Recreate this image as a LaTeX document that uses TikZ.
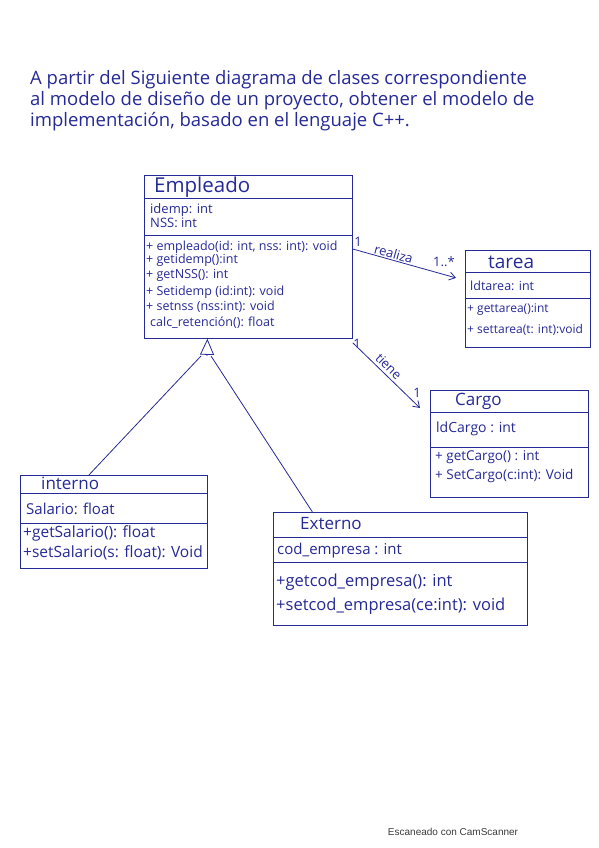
\documentclass[tikz,border=0pt]{standalone}
\usepackage{fontspec}
\usetikzlibrary{arrows.meta}
\newfontfamily\mano{Open Sans}
\newfontfamily\pie{Liberation Sans}
\definecolor{ink}{RGB}{38,42,150}
\definecolor{gris}{RGB}{60,60,60}

\tikzset{
	clase/.style={draw=ink,thick,inner sep=0pt,anchor=north west},
	txt/.style={ink,anchor=west,inner sep=0pt,font=\mano\fontsize{#1}{#1}\selectfont},
	txt/.default=12,
	titulo/.style={ink,anchor=west,inner sep=0pt,font=\mano\fontsize{#1}{#1}\selectfont},
	titulo/.default=18,
	enunciado/.style={ink,anchor=west,inner sep=0pt,font=\mano\fontsize{18.5}{22}\selectfont},
	linea/.style={ink,thick},
	asoc/.style={ink,thick,-{Straight Barb[length=6pt,width=8pt]}},
	herencia/.style={ink,thick,-{Triangle[open,length=16pt,width=14pt]}},
	rol/.style={ink,inner sep=1pt,font=\mano\fontsize{13}{13}\selectfont}
}

\begin{document}
\begin{tikzpicture}[x=1pt,y=-1pt]
	
	\useasboundingbox[fill=white] (0,0) rectangle (599,848);
	
	% enunciado
	\node[enunciado] (l1) at (30,80) {A partir del Siguiente diagrama de clases correspondiente};
	\node[enunciado] (l2) at (30,101) {al modelo de diseño de un proyecto, obtener el modelo de};
	\node[enunciado] (l3) at (30,122) {implementación, basado en el lenguaje C++.};
	
	% Empleado
	\node[clase,minimum width=208pt,minimum height=163pt] (emp) at (144,175) {};
	\draw[linea] (144,198) -- (352,198);
	\draw[linea] (144,235) -- (352,235);
	\node[titulo=20.5] (empT) at (154,187) {Empleado};
	\node[txt=13] (empA1) at (150,210) {idemp: int};
	\node[txt=13] (empA2) at (150,223) {NSS: int};
	\node[txt=12.5] (empM1) at (146,247) {+ empleado(id: int, nss: int): void};
	\node[txt=12.5] (empM2) at (146,260) {+ getidemp():int};
	\node[txt=12.5] (empM3) at (146,275) {+ getNSS(): int};
	\node[txt=12.5] (empM4) at (146,292) {+ Setidemp (id:int): void};
	\node[txt=12.5] (empM5) at (146,307) {+ setnss (nss:int): void};
	\node[txt=12.5] (empM6) at (150,323) {calc\_retención(): float};
	
	% tarea
	\node[clase,minimum width=125pt,minimum height=97pt] (tar) at (465,250) {};
	\draw[linea] (465,272) -- (590,272);
	\draw[linea] (465,298) -- (590,298);
	\node[titulo=19] (tarT) at (488,262) {tarea};
	\node[txt=12.5] (tarA1) at (470,286) {ldtarea: int};
	\node[txt=12] (tarM1) at (467,310) {+ gettarea():int};
	\node[txt=12] (tarM2) at (467,330) {+ settarea(t: int):void};
	
	% Cargo
	\node[clase,minimum width=158pt,minimum height=107pt] (car) at (430,390) {};
	\draw[linea] (430,412) -- (588,412);
	\draw[linea] (430,447) -- (588,447);
	\node[titulo=17] (carT) at (455,401) {Cargo};
	\node[txt=14] (carA1) at (436,429) {ldCargo : int};
	\node[txt=13.5] (carM1) at (435,457) {+ getCargo() : int};
	\node[txt=13.5] (carM2) at (435,476) {+ SetCargo(c:int): Void};
	
	% interno
	\node[clase,minimum width=187pt,minimum height=93pt] (int) at (20,475) {};
	\draw[linea] (20,493) -- (207,493);
	\draw[linea] (20,523) -- (207,523);
	\node[titulo=17] (intT) at (41,483) {interno};
	\node[txt=15] (intA1) at (26,509) {Salario: float};
	\node[txt=15.5] (intM1) at (23,533) {+getSalario(): float};
	\node[txt=15.5] (intM2) at (23,553) {+setSalario(s: float): Void};
	
	% Externo
	\node[clase,minimum width=254pt,minimum height=113pt] (ext) at (273,512) {};
	\draw[linea] (273,537) -- (527,537);
	\draw[linea] (273,562) -- (527,562);
	\node[titulo=17] (extT) at (300,524) {Externo};
	\node[txt=15] (extA1) at (277,551) {cod\_empresa : int};
	\node[txt=16.5] (extM1) at (276,582) {+getcod\_empresa(): int};
	\node[txt=16.5] (extM2) at (276,606) {+setcod\_empresa(ce:int): void};
	
	% asociaciones
	\draw[asoc] ([yshift=-74pt]emp.north east) -- node[rol,above,sloped,pos=0.38] {realiza} ([xshift=-9pt,yshift=21pt]tar.west);
	\node[rol] (m1) at (358,242) {1};
	\node[rol] (m2) at (444,262) {1..*};
	
	\draw[asoc] ([yshift=-4pt]emp.south east) -- node[rol,above,sloped,pos=0.45,yshift=2pt] {tiene} ([xshift=-10pt,yshift=-18pt]car.north west);
	\node[rol] (m3) at (357,344) {1};
	\node[rol] (m4) at (417,393) {1};
	
	% herencia
	\coordinate (gen) at (207,356);
	\draw[herencia] (gen) -- ([xshift=-41pt]emp.south);
	\draw[linea] ([xshift=-25pt]int.north) -- ([xshift=-6pt]gen);
	\draw[linea] ([xshift=-88pt]ext.north) -- ([xshift=4pt]gen);
	
	% pie
	\node[gris,inner sep=0pt,font=\pie\fontsize{10}{12}\selectfont] (pie) at (453,832) {Escaneado con CamScanner};
	
\end{tikzpicture}
\end{document}
